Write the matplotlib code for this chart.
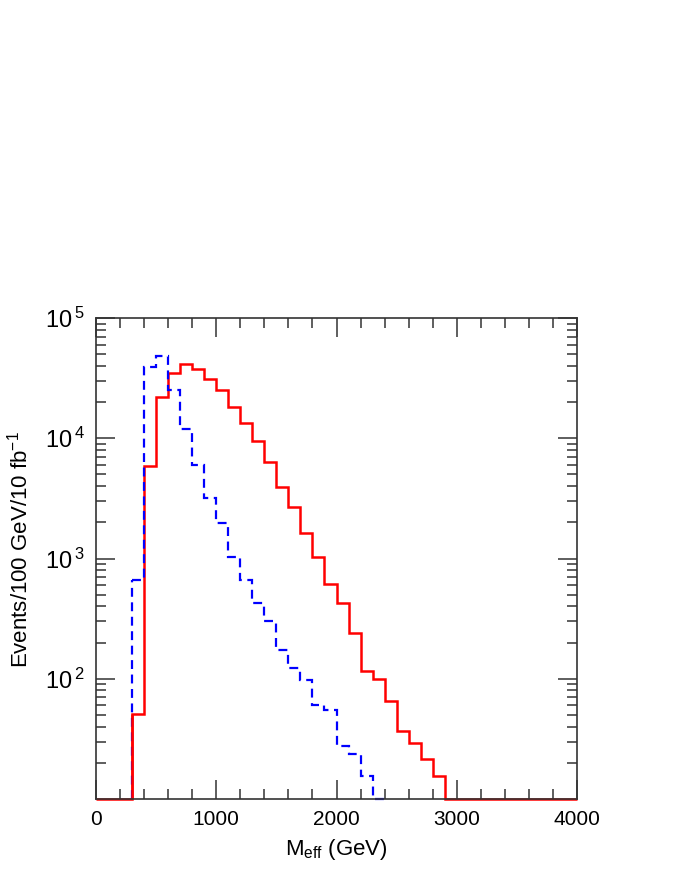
import numpy as np
import matplotlib
matplotlib.use('Agg')
import matplotlib.pyplot as plt
from matplotlib.ticker import MultipleLocator, LogLocator, FixedLocator, NullFormatter

# bin edges in GeV (100 GeV bins)
edges_red = np.arange(0, 4001, 100)
edges_blue = np.arange(300, 2401, 100)

# events per 100 GeV / 10 fb^-1 ; 10 = nothing (drawn on the floor)
red_counts = [10, 10, 10,
              51, 5900, 22000, 34700, 41400, 37600, 31200, 25300, 18300, 13300,
              9500, 6300, 3930, 2660, 1630, 1030, 611, 430, 242, 116, 100,
              65, 37, 29.4, 21.5, 15.5,
              10, 10, 10, 10, 10, 10, 10, 10, 10, 10, 10, 10]
blue_counts = [668, 39500, 48700, 25300, 11900, 6000, 3160, 1980, 1030,
               668, 430, 300, 175, 124, 97, 60, 55, 27.8, 23.7, 15.4, 10]

ytick_vals = [100, 1000, 10000, 100000]
ytick_labels = [r'$\mathregular{10^{\,2}}$', r'$\mathregular{10^{\,3}}$',
                r'$\mathregular{10^{\,4}}$', r'$\mathregular{10^{\,5}}$']

plt.rcParams['font.family'] = ['Liberation Sans', 'DejaVu Sans']
plt.rcParams['mathtext.fontset'] = 'custom'
plt.rcParams['mathtext.rm'] = 'Liberation Sans'

fig = plt.figure(figsize=(6.92, 8.96), dpi=100)
ax = fig.add_axes([96 / 692, 1 - 799 / 896, 481 / 692, 481 / 896])

ax.stairs(red_counts[:40], edges_red, baseline=None, color='#ff0000', lw=1.8, clip_on=False)
ax.stairs(blue_counts, edges_blue, baseline=None, color='#0000ff', lw=1.6,
          linestyle=(0, (4, 2.5)), clip_on=False)
# vertical drop of the blue histogram at 300 GeV
ax.vlines(edges_blue[0], 10, blue_counts[0], color='#0000ff', lw=1.6, linestyles=(0, (4, 2.5)))
ax.vlines(edges_red[3], 10, red_counts[3], color='#ff0000', lw=1.8)

ax.set_yscale('log')
ax.set_xlim(0, 4000)
ax.set_ylim(10, 100000)

ax.xaxis.set_major_locator(MultipleLocator(1000))
ax.xaxis.set_minor_locator(MultipleLocator(200))
ax.yaxis.set_major_locator(FixedLocator(ytick_vals))
ax.set_yticklabels(ytick_labels)
ax.yaxis.set_minor_locator(LogLocator(base=10, subs=np.arange(2, 10)))
ax.yaxis.set_minor_formatter(NullFormatter())

ax.tick_params(which='both', direction='in', top=True, right=True, width=1.1, color='#333333')
ax.tick_params(which='major', length=14)
ax.tick_params(which='minor', length=7)
ax.tick_params(axis='x', labelsize=15, pad=8)
ax.tick_params(axis='y', labelsize=17, pad=8)
for s in ax.spines.values():
    s.set_linewidth(1.2)
    s.set_color('#333333')

ax.set_xlabel(r'M$_{\mathregular{eff}}$ (GeV)', fontsize=16)
ax.set_ylabel(r'Events/100 GeV/10 fb$^{\mathregular{-1}}$', fontsize=16)
ax.xaxis.set_label_coords(0.5, -0.078)
ax.yaxis.set_label_coords(-0.132, 0.518)

fig.savefig('out.png', dpi=100)
